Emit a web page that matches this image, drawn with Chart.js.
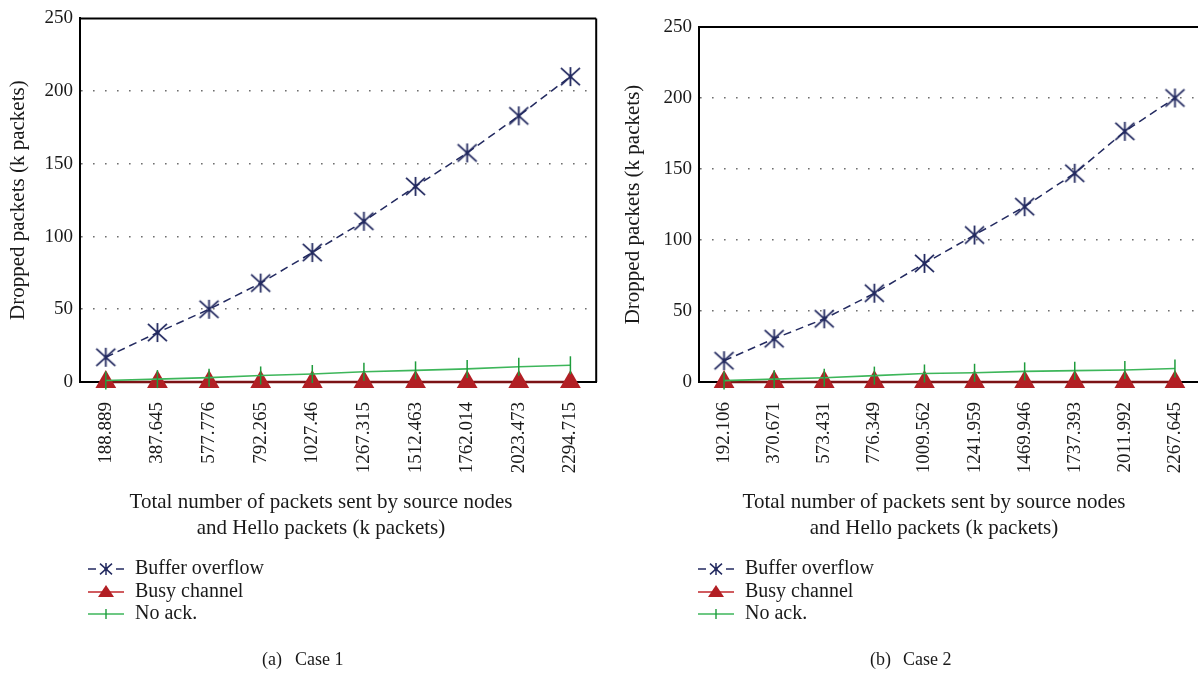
<!DOCTYPE html>
<html>
<head>
<meta charset="utf-8">
<script src="https://cdn.jsdelivr.net/npm/chart.js@4.4.1/dist/chart.umd.min.js"></script>
<style>
  html, body { margin: 0; padding: 0; background: #fff; overflow: hidden; width: 1198px; height: 673px; }
  canvas { position: absolute; top: 0; }
  #c1 { left: 0; }
  #c2 { left: 600px; }
</style>
</head>
<body>
<canvas id="c1" width="614" height="673"></canvas>
<canvas id="c2" width="620" height="673"></canvas>
<script>
// Case 1: total packets sent (k packets) and dropped packets per cause
const labelsCase1 = ['188.889', '387.645', '577.776', '792.265', '1027.46', '1267.315', '1512.463', '1762.014', '2023.473', '2294.715'];
const bufferCase1 = [17, 34, 50, 68, 89, 110.5, 134.5, 157.5, 183, 210];
const busyCase1   = [0, 0, 0, 0, 0, 0, 0, 0, 0, 0];
const noAckCase1  = [1, 2, 3, 4.5, 5.5, 7, 8, 9, 10.5, 11.5];

// Case 2
const labelsCase2 = ['192.106', '370.671', '573.431', '776.349', '1009.562', '1241.959', '1469.946', '1737.393', '2011.992', '2267.645'];
const bufferCase2 = [15, 30.5, 44.5, 62.5, 83.5, 103.5, 123.5, 147, 176.5, 200];
const busyCase2   = [0, 0, 0, 0, 0, 0, 0, 0, 0, 0];
const noAckCase2  = [1, 2, 3, 4.5, 6, 6.5, 7.5, 8, 8.5, 9.5];

const yTicks = [0, 50, 100, 150, 200, 250];
const seriesNames = ['Buffer overflow', 'Busy channel', 'No ack.'];
const xTitleLines = ['Total number of packets sent by source nodes', 'and Hello packets (k packets)'];
const yTitle = 'Dropped packets (k packets)';

const FONT = '"Liberation Serif", "DejaVu Serif", serif';
const NAVY = '#232a60';
const RED_LINE = '#7c1315';
const RED_FILL = '#b21f24';
const GREEN_LINE = '#3db65a';
const GREEN_MARK = '#1e9c3c';

// asterisk marker: vertical stroke plus two diagonals
function makeAsterisk(r, lw) {
  const s = Math.ceil(2 * r + 4);
  const c = document.createElement('canvas');
  c.width = s; c.height = s;
  const g = c.getContext('2d');
  const m = s / 2;
  g.strokeStyle = NAVY;
  g.lineWidth = lw;
  g.beginPath();
  g.moveTo(m, m - r); g.lineTo(m, m + r);
  g.moveTo(m - r, m - r * 0.9); g.lineTo(m + r, m + r * 0.9);
  g.moveTo(m - r, m + r * 0.9); g.lineTo(m + r, m - r * 0.9);
  g.stroke();
  g.fillStyle = NAVY;
  g.beginPath(); g.arc(m, m, 1.8, 0, Math.PI * 2); g.fill();
  return c;
}
const asterisk = makeAsterisk(9.5, 1.8);
const asteriskSmall = makeAsterisk(6, 1.5);

// frame, x-axis title, legend and caption drawn under each panel
const panelText = {
  id: 'panelText',
  afterDraw(chart, args, o) {
    const ctx = chart.ctx;
    const a = chart.chartArea;
    ctx.save();
    ctx.strokeStyle = '#000';
    ctx.lineWidth = 2;
    ctx.beginPath();
    ctx.moveTo(a.left, a.top); ctx.lineTo(a.right, a.top);
    ctx.moveTo(a.right, a.top); ctx.lineTo(a.right, a.bottom);
    ctx.stroke();

    ctx.fillStyle = '#1a1a1a';
    ctx.font = '21px ' + FONT;
    ctx.textAlign = 'center';
    ctx.textBaseline = 'middle';
    xTitleLines.forEach((t, i) => ctx.fillText(t, o.titleX, o.titleY + i * 26));

    // legend
    const x0 = o.legX, x1 = o.legX + 36, xm = (x0 + x1) / 2;
    const rows = [o.legY, o.legY + 23, o.legY + 45];
    ctx.textAlign = 'left';
    ctx.font = '20px ' + FONT;
    seriesNames.forEach((name, i) => {
      const y = rows[i];
      ctx.save();
      if (i === 0) {
        ctx.strokeStyle = NAVY; ctx.lineWidth = 1.4;
        ctx.beginPath();
        ctx.moveTo(x0, y); ctx.lineTo(x0 + 8, y);
        ctx.moveTo(x1 - 8, y); ctx.lineTo(x1, y);
        ctx.stroke();
        ctx.drawImage(asteriskSmall, xm - asteriskSmall.width / 2, y - asteriskSmall.height / 2);
      } else if (i === 1) {
        ctx.strokeStyle = '#c0262b'; ctx.lineWidth = 1.6;
        ctx.beginPath(); ctx.moveTo(x0, y); ctx.lineTo(x1, y); ctx.stroke();
        ctx.fillStyle = RED_FILL;
        ctx.beginPath();
        ctx.moveTo(xm, y - 7); ctx.lineTo(xm + 8, y + 5); ctx.lineTo(xm - 8, y + 5);
        ctx.closePath(); ctx.fill();
      } else {
        ctx.strokeStyle = GREEN_LINE; ctx.lineWidth = 1.6;
        ctx.beginPath(); ctx.moveTo(x0, y); ctx.lineTo(x1, y); ctx.stroke();
        ctx.strokeStyle = GREEN_MARK; ctx.lineWidth = 1.4;
        ctx.beginPath(); ctx.moveTo(xm, y - 5); ctx.lineTo(xm, y + 5); ctx.stroke();
      }
      ctx.restore();
      ctx.fillStyle = '#1a1a1a';
      ctx.fillText(name, o.legX + 47, y);
    });

    // sub-figure caption: tag and name set apart
    ctx.font = '18px ' + FONT;
    ctx.fillText(o.capTag, o.capX, o.capY);
    ctx.fillText(o.capName, o.capX + 33, o.capY);
    ctx.restore();
  }
};

function buildPanel(canvasId, labels, buffer, busy, noAck, geom) {
  return new Chart(document.getElementById(canvasId), {
    type: 'line',
    data: {
      labels: labels,
      datasets: [
        {
          label: seriesNames[0],
          data: buffer,
          borderColor: NAVY,
          borderWidth: 1.5,
          borderDash: [8, 5],
          pointStyle: asterisk,
          pointRadius: 10,
          tension: 0,
          clip: false,
          order: 2
        },
        {
          label: seriesNames[1],
          data: busy,
          borderColor: RED_LINE,
          borderWidth: 2.5,
          pointStyle: 'triangle',
          pointRadius: 12,
          pointBackgroundColor: RED_FILL,
          pointBorderColor: RED_FILL,
          pointBorderWidth: 0,
          tension: 0,
          clip: false,
          order: 1
        },
        {
          label: seriesNames[2],
          data: noAck,
          borderColor: GREEN_LINE,
          borderWidth: 1.6,
          pointStyle: 'line',
          pointRotation: 90,
          pointRadius: 9,
          pointBorderColor: GREEN_MARK,
          pointBorderWidth: 1.5,
          tension: 0,
          clip: false,
          order: 0
        }
      ]
    },
    options: {
      responsive: false,
      animation: false,
      devicePixelRatio: 1,
      layout: { padding: { left: 0, top: geom.top, right: geom.right, bottom: geom.bottom } },
      plugins: {
        legend: { display: false },
        tooltip: { enabled: false },
        panelText: geom.text
      },
      scales: {
        x: {
          type: 'category',
          offset: true,
          grid: { display: false, drawTicks: false },
          border: { display: true, color: '#000', width: 2 },
          ticks: {
            color: '#1a1a1a',
            font: { family: FONT, size: 19 },
            minRotation: 90,
            maxRotation: 90,
            padding: 20,
            autoSkip: false
          },
          afterFit(scale) { scale.height = 100; }
        },
        y: {
          min: 0,
          max: 250,
          afterBuildTicks(scale) { scale.ticks = yTicks.map(v => ({ value: v })); },
          grid: {
            drawTicks: false,
            color: (c) => (c.tick && (c.tick.value === 0 || c.tick.value === 250)) ? 'rgba(0,0,0,0)' : '#6f6f6f',
            lineWidth: 1.6
          },
          border: { display: true, color: '#000', width: 2, dash: [1.6, 10.4], dashOffset: 0 },
          ticks: {
            color: '#1a1a1a',
            font: { family: FONT, size: 19 },
            padding: 7
          },
          title: {
            display: true,
            text: yTitle,
            color: '#1a1a1a',
            font: { family: FONT, size: 21 },
            padding: { top: geom.yTitlePad, bottom: 0 }
          },
          afterFit(scale) { scale.width = geom.yWidth; }
        }
      }
    },
    plugins: [panelText]
  });
}

buildPanel('c1', labelsCase1, bufferCase1, busyCase1, noAckCase1, {
  top: 17, right: 16, bottom: 191, yWidth: 80, yTitlePad: 6,
  text: { titleX: 321, titleY: 502, legX: 88, legY: 569, capTag: '(a)', capName: 'Case 1', capX: 262, capY: 660 }
});

buildPanel('c2', labelsCase2, bufferCase2, busyCase2, noAckCase2, {
  top: 27, right: 20, bottom: 191, yWidth: 99, yTitlePad: 21,
  text: { titleX: 334, titleY: 502, legX: 98, legY: 569, capTag: '(b)', capName: 'Case 2', capX: 270, capY: 660 }
});
</script>
</body>
</html>
